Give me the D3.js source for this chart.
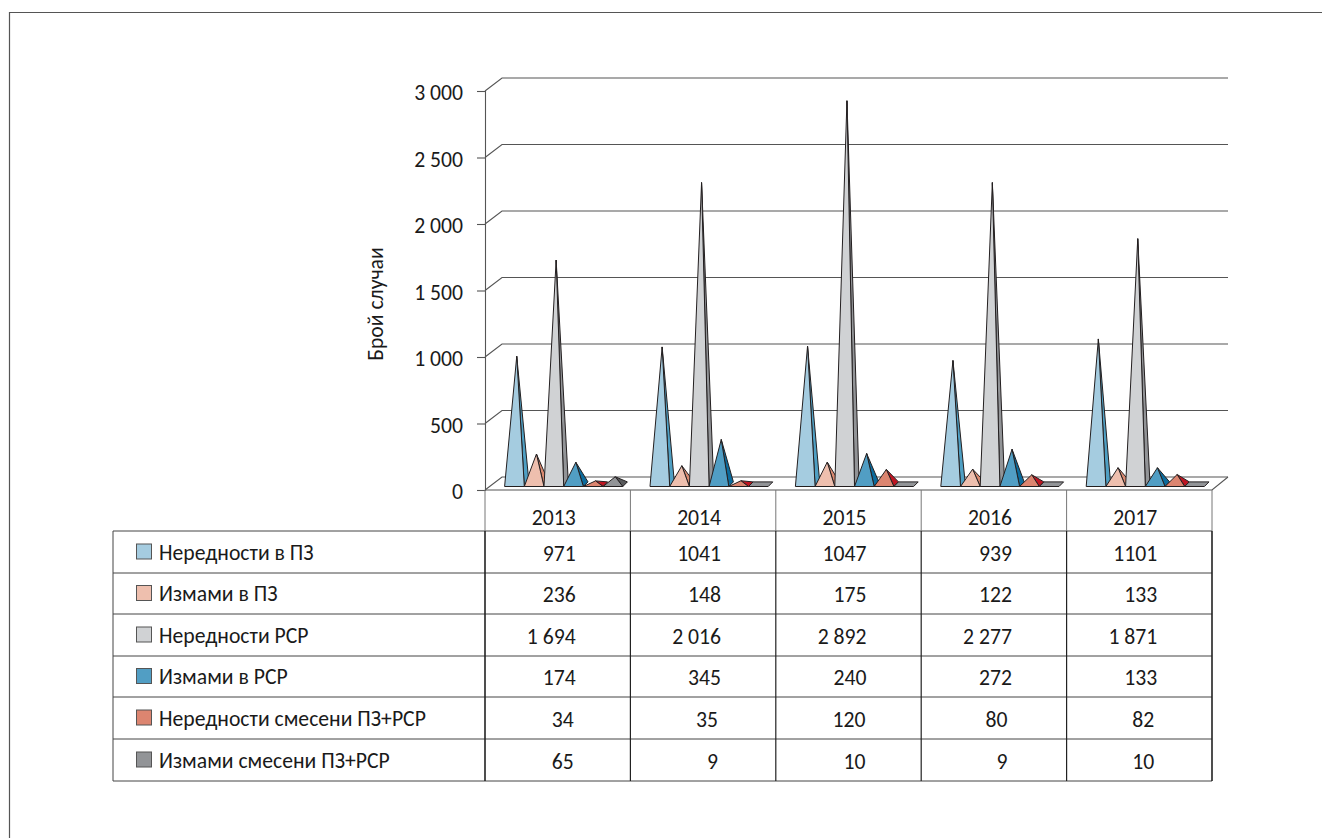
<!DOCTYPE html>
<html>
<head>
<meta charset="utf-8">
<script src="https://cdn.jsdelivr.net/npm/d3@7"></script>
<style>
  html, body { margin: 0; padding: 0; background: #fff; }
  svg { display: block; }
  text { font-family: Carlito, Lato, "Open Sans", sans-serif; fill: #1a1a1a; }
</style>
</head>
<body>
<svg id="chart" width="1322" height="838"></svg>
<script>
const years = ["2013", "2014", "2015", "2016", "2017"];
const seriesNames = ["Нередности в ПЗ", "Измами в ПЗ", "Нередности РСР", "Измами в РСР", "Нередности смесени ПЗ+РСР", "Измами смесени ПЗ+РСР"];
const yTicks = [0, 500, 1000, 1500, 2000, 2500, 3000];

// values as printed in the table
const neredPz = [971, 1041, 1047, 939, 1101];
const izmamiPz = [236, 148, 175, 122, 133];
const neredRsr = [1694, 2016, 2892, 2277, 1871];
const izmamiRsr = [174, 345, 240, 272, 133];
const neredMix = [34, 35, 120, 80, 82];
const izmamiMix = [65, 9, 10, 9, 10];
const tableRows = [neredPz, izmamiPz, neredRsr, izmamiRsr, neredMix, izmamiMix];

// the РСР spikes for 2014 and 2017 are not drawn at the height the table says
const neredRsrPlotted = [1694, 2277, 2892, 2277, 1855];
const plotRows = [neredPz, izmamiPz, neredRsrPlotted, izmamiRsr, neredMix, izmamiMix];

const frontColors = ["#a5cce0", "#eebfae", "#d0d2d4", "#519ec4", "#dc8570", "#929497"];
const sideColors = ["#4f9fc3", "#d98970", "#929497", "#0c6b9c", "#be1522", "#58595b"];

const svg = d3.select("#chart");

/* Layout */
const floorY = 490, topY = 91;
const left = 485, right = 1212;
const backX = 17, backY = -13;      // offset of the back wall
const tableLeft = 113;
const rowLines = [531, 573, 614, 656, 697, 739, 781];
const fontSize = 21.7;
const lastRowsShift = [-2, -3, -1, -4.5, -3];   // the two bottom rows sit a bit left in each column

const x = d3.scaleBand().domain(years).range([left, right]).paddingInner(0.187).paddingOuter(0.0935);
const xSeries = d3.scaleBand().domain(d3.range(6)).range([0, x.bandwidth()]);
const y = d3.scaleLinear().domain([0, 3000]).range([floorY, topY]);
const thousands = d3.formatLocale({ decimal: ",", thousands: " ", grouping: [3], currency: ["", ""] }).format(",");

// outer frame, cut off by the page on the right and bottom
svg.append("path")
    .attr("d", d3.line()([[9.5, 838], [9.5, 12.5], [1322, 12.5]]))
    .attr("fill", "none")
    .attr("stroke", "#555")
    .attr("stroke-width", 1.2);

/**************************************************************************************************/
/* Walls */
const walls = svg.append("g").attr("fill", "none").attr("stroke", "#555").attr("stroke-width", 1.1);
walls.selectAll("path.grid")
    .data(yTicks)
    .join("path")
        .attr("class", "grid")
        .attr("d", d => d3.line()([[left, y(d)], [left + backX, y(d) + backY], [right + backX - 1, y(d) + backY]]));
walls.append("path")
    .attr("d", d3.line()([[left, floorY], [right, floorY], [right + backX - 1, floorY + backY]]));

const yAxis = svg.append("g")
    .attr("transform", `translate(${left},0)`)
    .call(d3.axisLeft(y).tickValues(yTicks).tickFormat(thousands).tickSize(8).tickPadding(14));
yAxis.selectAll("line, path").attr("stroke", "#555").attr("stroke-width", 1.1);
yAxis.selectAll("text").attr("font-size", fontSize).attr("dy", "0.41em");
yAxis.attr("font-family", null);

svg.append("text")
    .attr("transform", "translate(383,304) rotate(-90)")
    .attr("text-anchor", "middle")
    .attr("font-size", fontSize)
    .text("Брой случаи");

/**************************************************************************************************/
/* Pyramids */
const pyramids = svg.append("g")
    .attr("transform", "translate(6,0)")
    .attr("stroke", "#231f20")
    .attr("stroke-width", 1)
    .attr("stroke-linejoin", "round");

/* Returns the faces of one pyramid, back to front. A pyramid whose tip stays
 * below the back edge of its base just reads as a flat plate. */
function faces(year, seriesIdx, value) {
    const x0 = x(year) + xSeries(seriesIdx);
    const x1 = x0 + xSeries.bandwidth();
    const depth = 4.6;
    const base = floorY - 3.5;
    const apex = [(x0 + x1) / 2 + depth / 2, y(value) - 4.6];
    const fl = [x0, base], fr = [x1, base], br = [x1 + depth, base - depth], bl = [x0 + depth, base - depth];
    if (apex[1] > base - depth) {
        return [{ pts: [fl, fr, br, bl], color: frontColors[seriesIdx] }];
    }
    return [
        { pts: [fr, br, apex], color: sideColors[seriesIdx] },
        { pts: [fl, fr, apex], color: frontColors[seriesIdx] }
    ];
}

plotRows.forEach((row, s) => {
    years.forEach((year, i) => {
        pyramids.selectAll(null)
            .data(faces(year, s, row[i]))
            .join("path")
                .attr("d", d => d3.line()(d.pts) + "Z")
                .attr("fill", d => d.color);
    });
});

/**************************************************************************************************/
/* Data table */
const table = svg.append("g").attr("stroke", "#444").attr("stroke-width", 1);
table.selectAll("line.row")
    .data(rowLines)
    .join("line")
        .attr("class", "row")
        .attr("x1", tableLeft).attr("x2", right)
        .attr("y1", d => d).attr("y2", d => d);
table.append("line").attr("x1", tableLeft).attr("x2", tableLeft).attr("y1", rowLines[0]).attr("y2", rowLines[6]);
// the header part of the column lines is lighter than the part beside the rows
table.selectAll("line.head")
    .data(d3.range(years.length + 1))
    .join("line")
        .attr("class", "head")
        .attr("x1", d => left + d * x.step()).attr("x2", d => left + d * x.step())
        .attr("y1", floorY).attr("y2", rowLines[0])
        .attr("stroke", "#777");
table.selectAll("line.col")
    .data(d3.range(years.length + 1))
    .join("line")
        .attr("class", "col")
        .attr("x1", d => left + d * x.step()).attr("x2", d => left + d * x.step())
        .attr("y1", rowLines[0]).attr("y2", rowLines[6])
        .attr("stroke", "#222")
        .attr("stroke-width", d => d === 0 || d === years.length ? 1.6 : 1.2);

const rowMid = i => (rowLines[i] + rowLines[i + 1]) / 2;
const colRight = year => x(year) + x.bandwidth() / 2 + 18;

svg.append("g").selectAll("text")
    .data(years)
    .join("text")
        .attr("x", colRight)
        .attr("y", 525)
        .attr("text-anchor", "end")
        .attr("font-size", fontSize)
        .text(d => d);

seriesNames.forEach((name, s) => {
    svg.append("rect")
        .attr("x", 136.5).attr("y", rowMid(s) - 8)
        .attr("width", 15).attr("height", 15)
        .attr("fill", frontColors[s])
        .attr("stroke", "#555");
    svg.append("text")
        .attr("x", 159).attr("y", rowMid(s) + 7.5)
        .attr("font-size", fontSize)
        .text(name);
    svg.append("g").selectAll("text")
        .data(tableRows[s])
        .join("text")
            .attr("x", (d, i) => colRight(years[i]) + (s >= 4 ? lastRowsShift[i] : 0))
            .attr("y", rowMid(s) + 8.5)
            .attr("text-anchor", "end")
            .attr("font-size", fontSize)
            .text(d => s === 2 ? thousands(d) : d);
});
</script>
</body>
</html>
